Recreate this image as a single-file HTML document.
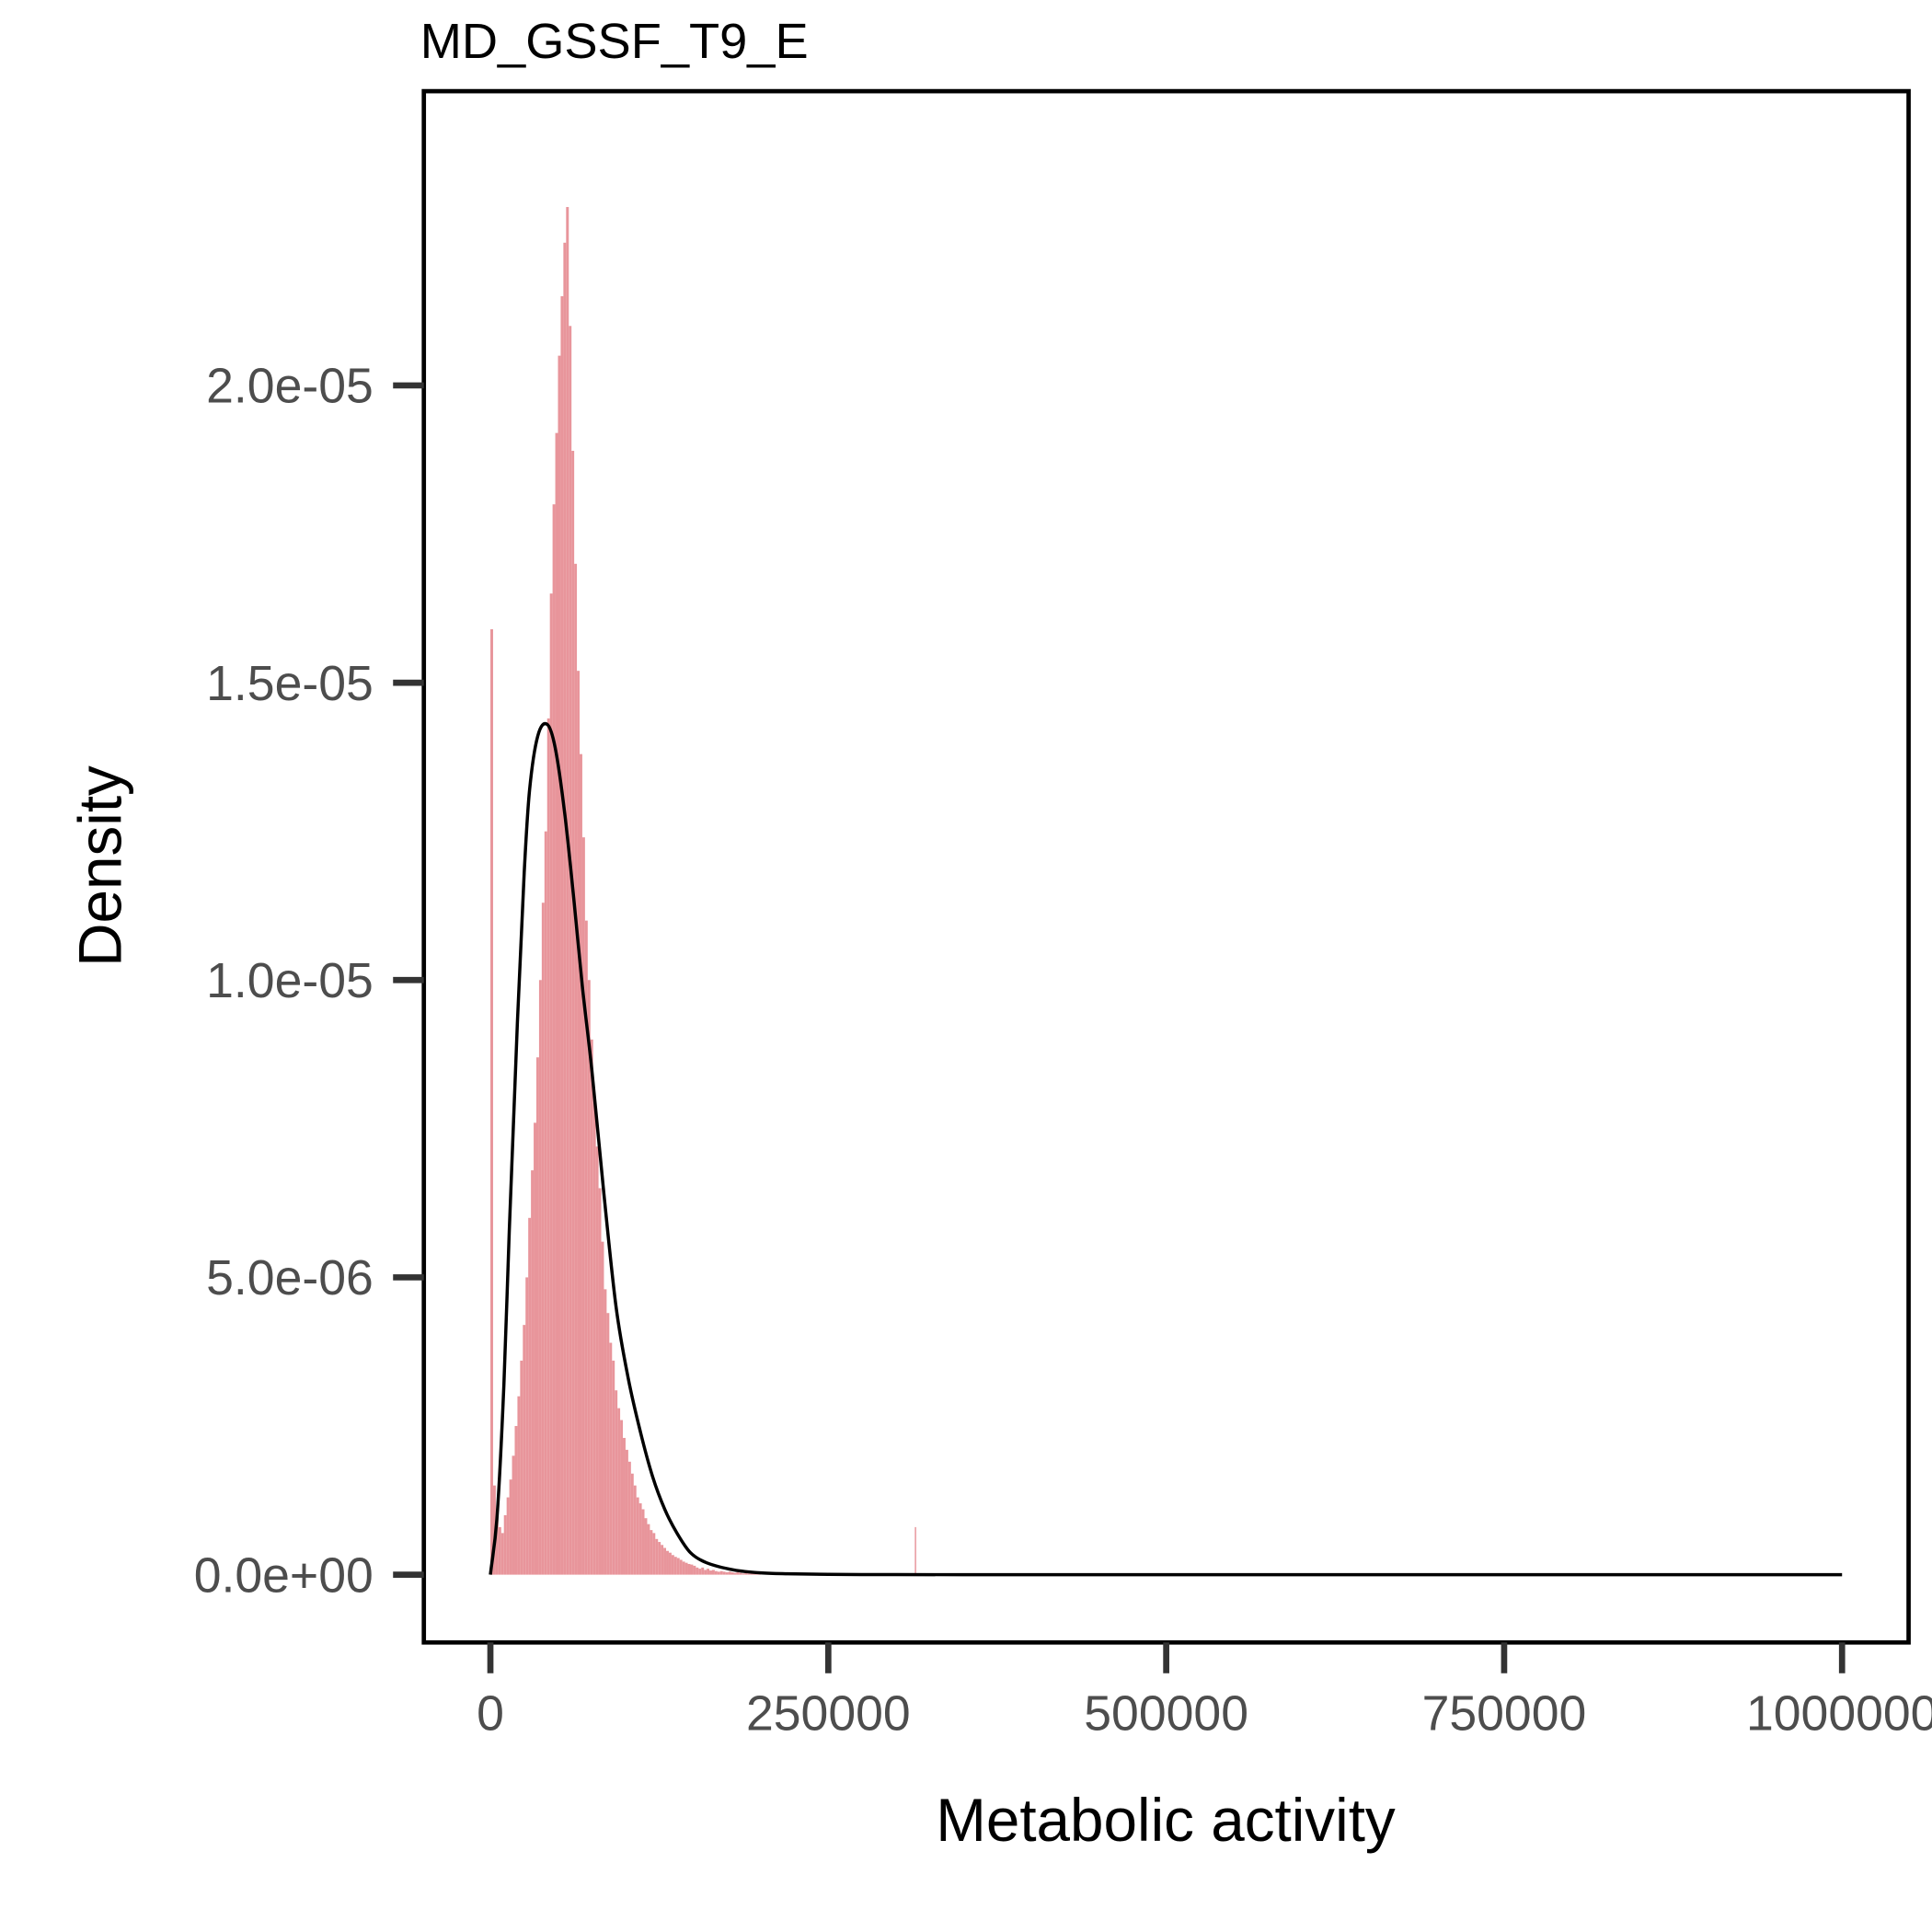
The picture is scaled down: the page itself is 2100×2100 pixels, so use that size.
<!DOCTYPE html>
<html><head><meta charset="utf-8"><style>html,body{margin:0;padding:0;background:#fff}svg{display:block}text{font-family:"Liberation Sans",Arial,sans-serif}</style></head>
<body>
<svg id="chart" width="2100" height="2100" viewBox="0 0 1568 1568" xmlns="http://www.w3.org/2000/svg">
<rect width="1568" height="1568" fill="#fff"/>
<text x="341" y="47" font-size="40.5" fill="#000">MD_GSSF_T9_E</text>
<g id="bars"></g>
<g id="curve"></g>
<rect x="344" y="74" width="1205" height="1259" fill="none" stroke="#000" stroke-width="3.5"/>
<g id="yaxis"></g>
<g id="xaxis"></g>
<text x="946" y="1494" font-size="49" text-anchor="middle" fill="#000">Metabolic activity</text>
<text transform="translate(98,703) rotate(-90)" font-size="49" text-anchor="middle" fill="#000">Density</text>
</svg>
<script>
// histogram bins: start (thousands), width 2000, density (1e-6)
const binStarts = [];
for (let i = 0; i < 100; i++) binStarts.push(i * 2);
const binValues = [15.9,1.5,1.0,0.8,0.7,1.0,1.3,1.6,2.0,2.5,3.0,3.6,4.2,5.0,6.0,6.8,7.6,8.7,10.0,11.3,12.5,14.4,16.5,18.0,19.2,20.5,21.5,22.4,23.0,21.0,18.9,17.0,15.2,13.8,12.4,11.0,10.0,9.0,8.0,7.2,6.5,5.6,4.8,4.4,3.9,3.6,3.1,2.8,2.6,2.3,2.1,1.9,1.7,1.5,1.3,1.2,1.1,0.95,0.85,0.75,0.7,0.6,0.55,0.5,0.45,0.4,0.37,0.33,0.3,0.28,0.25,0.22,0.2,0.18,0.17,0.15,0.12,0.1,0.12,0.08,0.1,0.07,0.08,0.06,0.05,0.06,0.05,0.04,0.05,0.04,0.03,0.04,0.03,0.02,0.03,0.02,0.02,0.03,0.02,0.02];
const tailStarts = [210,226,240,256,272,290,314];
const tailValues = [0.03,0.02,0.03,0.02,0.02,0.02,0.8];
const curveX = [0,5,10,14,20,25,29,35,42,48,55,62,68,75,84,93,102,111,120,129,138,148,160,180,200,220,250,300,400,500,600,700,800,900,1000];
const curveY = [0,1.0,3.2,5.8,9.3,11.8,13.2,14.1,14.3,13.9,12.8,11.3,9.9,8.5,6.4,4.5,3.3,2.4,1.65,1.1,0.7,0.37,0.2,0.08,0.03,0.015,0.005,0.001,0,0,0,0,0,0,0];
const xTicks = [0,250000,500000,750000,1000000];
const xTickLabels = ["0","250000","500000","750000","1000000"];
const yTicks = [0,5,10,15,20];
const yTickLabels = ["0.0e+00","5.0e-06","1.0e-05","1.5e-05","2.0e-05"];

const NS = "http://www.w3.org/2000/svg";
const xs = v => 398 + v / 1000000 * 1097;
const ys = v => 1278 - v / 5 * 241.3;
function mk(tag, attrs, parent) { const e = document.createElementNS(NS, tag); for (const k in attrs) e.setAttribute(k, attrs[k]); parent.appendChild(e); return e; }

const bars = document.getElementById('bars');
function drawBar(startK, val, wK) {
  const x0 = xs(startK * 1000), x1 = xs((startK + wK) * 1000);
  const r = mk('rect', {x: x0, y: ys(val), width: Math.max(x1 - x0, 0.8), height: ys(0) - ys(val), fill: '#e8959b'}, bars);
  
  
}
binStarts.forEach((s, i) => drawBar(s, binValues[i], 2));
tailStarts.forEach((s, i) => drawBar(s, tailValues[i], 1));

const P = curveX.map((x, i) => [xs(x * 1000), ys(curveY[i])]);
let d = 'M' + P[0][0].toFixed(2) + ',' + P[0][1].toFixed(2);
for (let i = 0; i < P.length - 1; i++) {
  const p0 = P[Math.max(i - 1, 0)], p1 = P[i], p2 = P[i + 1], p3 = P[Math.min(i + 2, P.length - 1)];
  const h = p2[0] - p1[0];
  const s1 = (p2[1] - p0[1]) / (p2[0] - p0[0] || 1), s2 = (p3[1] - p1[1]) / (p3[0] - p1[0] || 1);
  const c1 = [p1[0] + h / 3, Math.min(p1[1] + s1 * h / 3, 1278)];
  const c2 = [p2[0] - h / 3, Math.min(p2[1] - s2 * h / 3, 1278)];
  d += ' C' + c1.map(v => v.toFixed(2)).join(',') + ' ' + c2.map(v => v.toFixed(2)).join(',') + ' ' + p2[0].toFixed(2) + ',' + p2[1].toFixed(2);
}
const curve = document.getElementById('curve');
const pl = mk('path', {d: d, fill: 'none', stroke: '#000', 'stroke-width': 2.6, 'stroke-linejoin': 'round'}, curve);



const ya = document.getElementById('yaxis');
yTicks.forEach((t, i) => {
  const y = ys(t);
  const l = mk('line', {x1: 319, x2: 344, y1: y, y2: y, stroke: '#333', 'stroke-width': 5}, ya);
  
  
  const tx = mk('text', {x: 303, y: y + 14, 'font-size': 40, 'text-anchor': 'end', fill: '#4d4d4d'}, ya);
  tx.textContent = yTickLabels[i];
  
  
});
const xa = document.getElementById('xaxis');
xTicks.forEach((t, i) => {
  const x = xs(t);
  const l = mk('line', {x1: x, x2: x, y1: 1333, y2: 1358, stroke: '#333', 'stroke-width': 5}, xa);
  
  
  const tx = mk('text', {x: x, y: 1404, 'font-size': 40, 'text-anchor': 'middle', fill: '#4d4d4d'}, xa);
  tx.textContent = xTickLabels[i];
  
  
});
</script>
</body></html>
